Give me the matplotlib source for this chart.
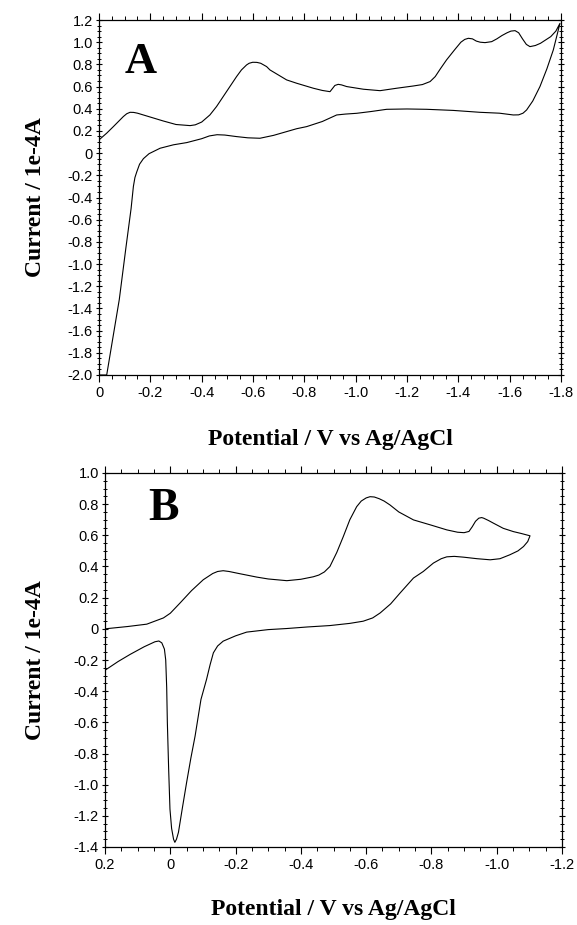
import matplotlib.pyplot as plt
from matplotlib.ticker import MultipleLocator

# Panel A: forward sweep (0 -> -1.8 V) then return sweep (-1.8 -> 0 V)
a_fwd_E = [0.0, -0.03, -0.053, -0.079, -0.105, -0.125, -0.134, -0.140, -0.147, -0.158,
           -0.173, -0.195, -0.238, -0.29, -0.342, -0.40, -0.43, -0.46, -0.49, -0.536,
           -0.58, -0.627, -0.68, -0.731, -0.77, -0.809, -0.87, -0.926, -0.96, -1.004,
           -1.06, -1.121, -1.2, -1.277, -1.38, -1.484, -1.56, -1.614, -1.635, -1.652,
           -1.666, -1.69, -1.718, -1.745, -1.77, -1.796]
a_fwd_I = [-2.0, -2.0, -1.68, -1.32, -0.85, -0.50, -0.30, -0.22, -0.17, -0.10,
           -0.05, -0.005, 0.044, 0.075, 0.095, 0.13, 0.155, 0.166, 0.163, 0.149,
           0.138, 0.134, 0.16, 0.194, 0.22, 0.239, 0.285, 0.344, 0.352, 0.359,
           0.375, 0.395, 0.398, 0.395, 0.385, 0.368, 0.36, 0.344, 0.345, 0.36,
           0.389, 0.47, 0.60, 0.76, 0.93, 1.17]
a_rev_E = [-1.796, -1.78, -1.76, -1.74, -1.72, -1.70, -1.679, -1.665, -1.65, -1.635,
           -1.621, -1.605, -1.59, -1.57, -1.55, -1.53, -1.504, -1.485, -1.47, -1.455,
           -1.439, -1.425, -1.41, -1.385, -1.354, -1.33, -1.31, -1.29, -1.26, -1.224,
           -1.16, -1.095, -1.03, -0.965, -0.945, -0.932, -0.919, -0.90, -0.87, -0.835,
           -0.77, -0.731, -0.666, -0.653, -0.63, -0.615, -0.599, -0.585, -0.575, -0.555,
           -0.536, -0.51, -0.484, -0.458, -0.432, -0.40, -0.375, -0.355, -0.30, -0.25,
           -0.20, -0.15, -0.135, -0.121, -0.108, -0.095, -0.056, -0.03, 0.0]
a_rev_I = [1.17, 1.10, 1.05, 1.02, 0.99, 0.97, 0.96, 0.98, 1.03, 1.085,
           1.104, 1.10, 1.085, 1.06, 1.03, 1.005, 0.996, 1.0, 1.01, 1.03,
           1.035, 1.025, 1.00, 0.93, 0.84, 0.76, 0.69, 0.645, 0.618, 0.605,
           0.585, 0.563, 0.576, 0.60, 0.615, 0.62, 0.61, 0.554, 0.565, 0.585,
           0.63, 0.66, 0.75, 0.78, 0.81, 0.818, 0.819, 0.81, 0.795, 0.75,
           0.69, 0.60, 0.51, 0.42, 0.344, 0.28, 0.255, 0.248, 0.258, 0.29,
           0.325, 0.36, 0.367, 0.368, 0.355, 0.33, 0.239, 0.18, 0.119]

# Panel B: one continuous trace
b_fwd_E = [0.2, 0.16, 0.123, 0.08, 0.047, 0.035, 0.026, 0.018, 0.014, 0.011,
           0.009, 0.005, 0.001, -0.004, -0.010, -0.014, -0.019, -0.025, -0.037, -0.050,
           -0.063, -0.076, -0.094, -0.111, -0.122, -0.132, -0.145, -0.162, -0.20, -0.234,
           -0.30, -0.357, -0.42, -0.489, -0.55, -0.591, -0.62, -0.643, -0.675, -0.704,
           -0.745, -0.775, -0.806, -0.83, -0.847, -0.87, -0.898, -0.94, -0.98, -1.01,
           -1.04, -1.065, -1.082, -1.095, -1.102]
b_fwd_I = [-0.266, -0.21, -0.164, -0.115, -0.083, -0.078, -0.09, -0.13, -0.20, -0.377,
           -0.60, -0.90, -1.157, -1.28, -1.35, -1.37, -1.35, -1.306, -1.15, -0.986,
           -0.83, -0.688, -0.453, -0.325, -0.23, -0.154, -0.11, -0.079, -0.045, -0.021,
           -0.005, 0.002, 0.012, 0.021, 0.035, 0.049, 0.07, 0.102, 0.16, 0.23,
           0.326, 0.368, 0.422, 0.45, 0.462, 0.465, 0.46, 0.45, 0.443, 0.45,
           0.475, 0.50, 0.528, 0.56, 0.597]
b_rev_E = [-1.102, -1.075, -1.051, -1.02, -0.99, -0.975, -0.96, -0.954, -0.945, -0.935,
           -0.925, -0.915, -0.90, -0.88, -0.847, -0.80, -0.745, -0.70, -0.673, -0.655,
           -0.64, -0.625, -0.612, -0.60, -0.585, -0.571, -0.550, -0.530, -0.51, -0.489,
           -0.472, -0.455, -0.438, -0.40, -0.357, -0.30, -0.265, -0.21, -0.18, -0.162,
           -0.145, -0.13, -0.101, -0.065, -0.030, 0.0, 0.021, 0.072, 0.13, 0.2]
b_rev_I = [0.597, 0.612, 0.624, 0.645, 0.678, 0.695, 0.71, 0.714, 0.71, 0.69,
           0.655, 0.625, 0.617, 0.62, 0.635, 0.665, 0.699, 0.75, 0.795, 0.82,
           0.835, 0.846, 0.848, 0.84, 0.82, 0.784, 0.70, 0.592, 0.49, 0.40,
           0.365, 0.345, 0.334, 0.318, 0.309, 0.320, 0.332, 0.355, 0.368, 0.373,
           0.368, 0.355, 0.315, 0.245, 0.166, 0.10, 0.07, 0.03, 0.015, 0.0]

xlabel = 'Potential / V vs Ag/AgCl'
ylabel = 'Current / 1e-4A'

plt.rcParams['font.family'] = 'Liberation Sans'

fig = plt.figure(figsize=(5.77, 9.25), dpi=100)
axA = fig.add_axes([99/577, 1 - 375/925, 462/577, 355/925])
axB = fig.add_axes([105/577, 1 - 847/925, 457/577, 374/925])


def fmt(v, p):
    return '0' if abs(v) < 1e-9 else '%.1f' % v


def style_axis(ax, xlim, ylim):
    ax.set_xlim(*xlim)
    ax.set_ylim(*ylim)
    ax.xaxis.set_major_locator(MultipleLocator(0.2))
    ax.xaxis.set_minor_locator(MultipleLocator(0.05))
    ax.yaxis.set_major_locator(MultipleLocator(0.2))
    ax.yaxis.set_minor_locator(MultipleLocator(0.05))
    ax.tick_params(axis='x', which='both', direction='out', top=True, pad=3, labelsize=10.5)
    ax.tick_params(axis='y', which='both', direction='inout', right=True, pad=2, labelsize=10.5)
    ax.tick_params(which='major', length=5, width=0.8)
    ax.tick_params(which='minor', length=3, width=0.7)
    for s in ax.spines.values():
        s.set_linewidth(0.9)
    ax.xaxis.set_major_formatter(plt.FuncFormatter(fmt))
    ax.yaxis.set_major_formatter(plt.FuncFormatter(fmt))


axA.plot(a_fwd_E + a_rev_E, a_fwd_I + a_rev_I, color='black', lw=0.8)
style_axis(axA, (0, -1.8), (-2.0, 1.2))
axA.text(0.056, 0.851, 'A', transform=axA.transAxes, fontsize=32, fontweight='bold',
         family='Liberation Serif', ha='left', va='baseline')

axB.plot(b_fwd_E + b_rev_E, b_fwd_I + b_rev_I, color='black', lw=0.8)
style_axis(axB, (0.2, -1.2), (-1.4, 1.0))
axB.text(0.094, 0.874, 'B', transform=axB.transAxes, fontsize=33, fontweight='bold',
         family='Liberation Serif', ha='left', va='baseline')

for ax, xl, yl in [(axA, -0.183, -0.138), (axB, -0.168, -0.153)]:
    ax.set_xlabel(xlabel, fontsize=17, fontweight='bold', family='Liberation Serif', va='center')
    ax.set_ylabel(ylabel, fontsize=17, fontweight='bold', family='Liberation Serif', va='center')
    ax.xaxis.set_label_coords(0.5, xl)
    ax.yaxis.set_label_coords(yl, 0.5)

fig.savefig('out.png', dpi=100)
